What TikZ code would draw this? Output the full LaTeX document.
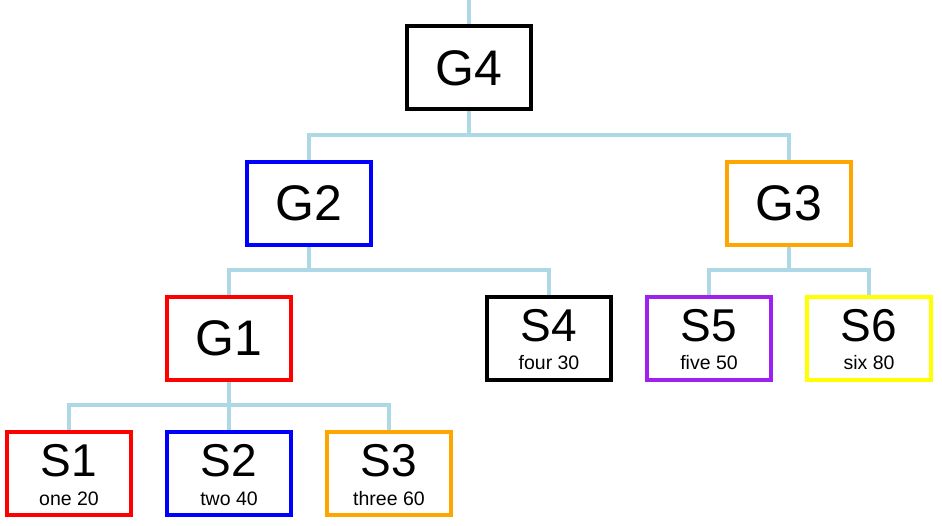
\documentclass[tikz,border=0pt]{standalone}
\usepackage{fontspec}
\setmainfont{Liberation Sans}
\usetikzlibrary{backgrounds}
\definecolor{linkblue}{HTML}{ADD8E6}
\definecolor{cred}{HTML}{FF0000}
\definecolor{cblue}{HTML}{0000FF}
\definecolor{corange}{HTML}{FFA500}
\definecolor{cpurple}{HTML}{A020F0}
\definecolor{cyellow}{HTML}{FFFF00}
\tikzset{
  box/.style={draw=#1, line width=4pt, fill=white, minimum width=124pt,
    minimum height=83pt, inner sep=0pt, outer sep=0pt},
  grouptext/.style={font=\fontsize{50}{50}\selectfont, inner sep=0pt},
  bigtext/.style={font=\fontsize{46}{46}\selectfont, inner sep=0pt, anchor=base},
  smalltext/.style={font=\fontsize{19.5}{21}\selectfont, inner sep=0pt, anchor=base},
  conn/.style={draw=linkblue, line width=4pt}
}
\newcommand{\groupbox}[4]{%
  \node[box=#2] (#1) at (#3) {};
  \node[grouptext] (#1t) at (#1.center) {#4};}
\newcommand{\leafbox}[5]{%
  \node[box=#2] (#1) at (#3) {};
  \node[bigtext] (#1t) at ([yshift=-3.2pt]#1.center) {#4};
  \node[smalltext] (#1s) at ([yshift=-31.5pt]#1.center) {#5};}
\begin{document}
\begin{tikzpicture}[x=1pt, y=-1pt]
\useasboundingbox (0,0) rectangle (942,526);
% internal nodes
\groupbox{g4}{black}{468.5,68}{G4}
\groupbox{g2}{cblue}{309,203.5}{G2}
\groupbox{g3}{corange}{789,203.5}{G3}
\groupbox{g1}{cred}{229,338.5}{G1}
% leaves
\leafbox{s4}{black}{549,338.5}{S4}{four 30}
\leafbox{s5}{cpurple}{709,338.5}{S5}{five 50}
\leafbox{s6}{cyellow}{869,338.5}{S6}{six 80}
\leafbox{s1}{cred}{69,473.5}{S1}{one 20}
\leafbox{s2}{cblue}{229,473.5}{S2}{two 40}
\leafbox{s3}{corange}{389,473.5}{S3}{three 60}
% junction points of the tree
\coordinate (root) at (468.5,0);
\coordinate (j4) at (g4.south |- 0,135);
\coordinate (j2) at (g2.south |- 0,270);
\coordinate (j3) at (g3.south |- 0,270);
\coordinate (j1) at (g1.south |- 0,405);
\begin{pgfonlayer}{background}
  \draw[conn] (root) -- (g4.north);
  \draw[conn] (g4.south) -- (j4);
  \draw[conn] (j4) -| (g2.north);
  \draw[conn] (j4) -| (g3.north);
  \draw[conn] (g2.south) -- (j2);
  \draw[conn] (j2) -| (g1.north);
  \draw[conn] (j2) -| (s4.north);
  \draw[conn] (g3.south) -- (j3);
  \draw[conn] (j3) -| (s5.north);
  \draw[conn] (j3) -| (s6.north);
  \draw[conn] (g1.south) -- (j1);
  \draw[conn] (j1) -| (s1.north);
  \draw[conn] (j1) -| (s2.north);
  \draw[conn] (j1) -| (s3.north);
\end{pgfonlayer}
\end{tikzpicture}
\end{document}
